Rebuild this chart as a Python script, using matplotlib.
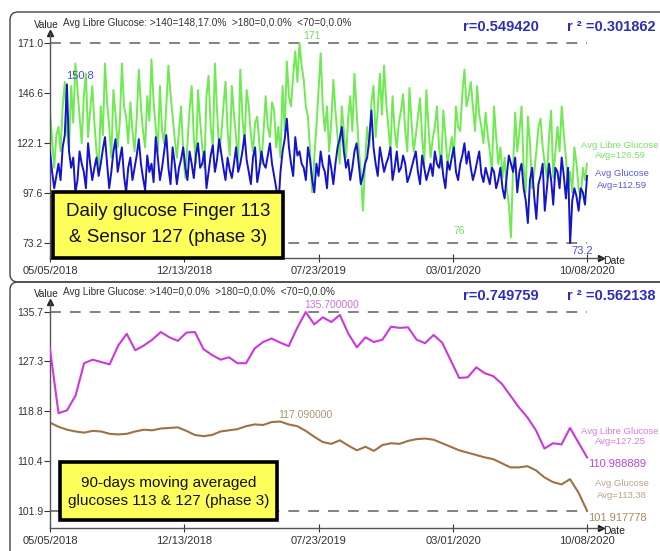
import numpy as np
import pandas as pd
import matplotlib
matplotlib.use("Agg")
import matplotlib.pyplot as plt
from matplotlib.patches import FancyBboxPatch, Rectangle

plt.rcParams['font.family'] = ['Liberation Sans', 'DejaVu Sans']

# ---- data (about two values per week / one per two weeks) ----
start = pd.Timestamp('2018-05-05')
end = pd.Timestamp('2020-10-08')
tick_dates = ['05/05/2018', '12/13/2018', '07/23/2019', '03/01/2020', '10/08/2020']

libre_daily = [137, 124, 110, 126, 130, 118, 140, 152, 128, 119, 150, 132, 161, 148, 135, 122, 145, 156, 125, 138, 150, 132, 118, 108,
               140, 126, 161, 142, 130, 115, 148, 136, 120, 132, 161, 140, 135, 122, 142, 128, 118, 134, 158, 140, 128, 120, 145, 133,
               163, 142, 130, 118, 150, 128, 122, 140, 160, 146, 135, 124, 115, 128, 140, 118,
               105, 122, 138, 150, 125, 112, 148, 133, 120, 110, 145, 155, 130, 120, 161, 138, 118, 126, 140, 152, 128, 116,
               150, 136, 125, 112, 158, 135, 122, 148, 140, 126, 118, 132, 135, 122, 112, 128, 145, 130, 125, 142, 138, 120, 130, 115,
               150, 128, 162, 145, 140, 155, 167, 152, 171, 160, 153, 140, 135, 118, 98, 115, 130, 148, 166, 140,
               128, 140, 118, 132, 153, 138, 125, 112, 140, 128, 115, 134, 145, 128, 156, 138, 120, 108, 89, 112, 130, 120,
               142, 150, 125, 138, 156, 136, 160, 142, 130, 118, 145, 128, 120, 132, 138, 146, 128, 118, 149, 132,
               118, 126, 135, 144, 125, 112, 148, 130, 115, 124, 130, 140, 120, 110, 138, 126, 112, 118,
               125, 115, 140, 130, 128, 146, 158, 140, 145, 152, 140, 128, 150, 136, 130, 122, 137, 126, 118, 108, 140, 125,
               112, 120, 105, 115, 100, 92, 76, 110, 137, 118, 128, 140, 110, 98, 135, 122, 100, 108, 118, 130,
               134, 120, 112, 105, 125, 138, 105, 118, 130, 118, 140, 126, 115, 100, 108, 98, 120, 112, 100, 95, 110, 104, 112]

finger_daily = [118, 108, 100, 106, 112, 104, 120, 126, 150.8, 118, 110, 115, 98, 104, 118, 112, 108, 100, 122, 112, 104, 110, 115, 106,
                112, 119, 125, 112, 100, 108, 118, 124, 108, 114, 120, 106, 98, 110, 115, 104, 110, 116, 124, 112, 105, 99, 116, 108,
                112, 103, 125, 115, 104, 110, 118, 126, 110, 102, 120, 112, 102, 110, 114, 120,
                110, 104, 118, 112, 105, 116, 122, 110, 112, 118, 100, 108, 116, 121, 108, 114, 124, 117, 110, 104, 115, 109,
                105, 112, 120, 108, 112, 118, 126, 114, 108, 102, 115, 120, 103, 109, 118, 112, 110, 116, 122, 112, 106, 100, 91, 108,
                118, 124, 134, 120, 112, 106, 125, 116, 118, 112, 110, 104, 120, 114, 104, 98, 112, 106, 118, 111,
                108, 100, 116, 110, 102, 112, 120, 124, 130, 118, 110, 114, 104, 110, 118, 122, 112, 102, 106, 112, 115, 124,
                138, 120, 112, 106, 120, 114, 108, 112, 115, 120, 104, 110, 118, 108, 110, 116, 112, 103, 106, 110,
                114, 118, 108, 102, 116, 110, 104, 108, 112, 106, 118, 112, 110, 116, 106, 100, 113, 109,
                115, 120, 108, 104, 112, 116, 122, 112, 118, 110, 104, 108, 113, 118, 107, 103, 110, 106, 102, 110, 108, 100,
                104, 110, 100, 95, 106, 116, 112, 108, 115, 98, 108, 112, 100, 94, 83, 104, 110, 96, 85, 102,
                106, 112, 89, 100, 112, 104, 92, 110, 108, 100, 115, 106, 95, 110, 73.2, 94, 100, 96, 89, 100, 98, 92, 106]

libre_ma = [129.4, 118.5, 119.0, 121.5, 127.0, 127.6, 127.2, 126.8, 130.0, 132.0,
            129.2, 130.0, 131.0, 132.3, 131.4, 130.8, 132.2, 132.3, 129.4, 128.4,
            127.6, 128.0, 127.0, 127.0, 129.5, 130.6, 131.2, 130.5, 129.9, 133.0,
            135.7, 133.6, 134.8, 134.0, 135.2, 132.0, 129.7, 131.4, 130.6, 131.0,
            133.2, 133.0, 133.1, 131.0, 130.4, 131.8, 130.5, 127.5, 124.5, 124.6,
            126.3, 125.3, 124.8, 123.5, 121.5, 119.5, 117.8, 115.6, 112.5, 113.4,
            113.2, 116.0, 113.5, 110.988889]

finger_ma = [116.9, 116.2, 115.7, 115.4, 115.2, 115.5, 115.4, 115.0, 114.9, 115.0,
             115.4, 115.7, 115.6, 115.9, 116.0, 116.1, 115.5, 114.8, 114.6, 114.8,
             115.4, 115.6, 115.8, 116.3, 116.6, 116.5, 117.0, 117.09, 116.6, 116.3,
             115.5, 114.5, 113.6, 113.3, 113.9, 113.0, 112.2, 112.8, 112.1, 113.1,
             113.4, 113.3, 113.8, 114.1, 114.2, 114.0, 113.4, 112.8, 112.2, 111.8,
             111.4, 111.0, 110.7, 110.0, 109.3, 109.3, 109.5, 108.8, 107.6, 106.8,
             106.4, 107.3, 105.0, 101.917778]

top_ticks = [171.0, 146.6, 122.1, 97.6, 73.2]
bottom_ticks = [135.7, 127.3, 118.8, 110.4, 101.9]

daily_dates = pd.date_range(start, end, periods=len(libre_daily))
ma_dates = pd.date_range(start, end, periods=len(libre_ma))

# ---- figure ----
W, H = 660, 551
fig = plt.figure(figsize=(W / 100, H / 100), dpi=100)


def px_axes(l, t, r, b, **kw):
    return fig.add_axes([l / W, 1 - b / H, (r - l) / W, (b - t) / H], **kw)


GREEN = '#6fea52'
BLUE = '#1414cc'
MAGENTA = '#cc38dc'
BROWN = '#9c7344'
AXC = '#333333'
xmax = start + pd.Timedelta(days=910)


def style_axis(ax, yticks):
    for s in ('top', 'right'):
        ax.spines[s].set_visible(False)
    for s in ('left', 'bottom'):
        ax.spines[s].set_color('#555555')
        ax.spines[s].set_linewidth(1.0)
    ax.set_xlim(start, xmax)
    ax.set_yticks(yticks)
    ax.set_yticklabels(['%.1f' % v for v in yticks])
    ax.set_xticks(pd.to_datetime(tick_dates, format='%m/%d/%Y'))
    ax.set_xticklabels(tick_dates)
    ax.tick_params(axis='y', direction='out', length=4, labelsize=7.5,
                   colors=AXC, pad=1)
    ax.tick_params(axis='x', direction='inout', length=6, labelsize=8,
                   colors=AXC, pad=3)
    ax.plot([0], [1], marker='^', color='#222222', ms=4, transform=ax.transAxes,
            clip_on=False)
    ax.plot([1], [0], marker='>', color='#222222', ms=4, transform=ax.transAxes,
            clip_on=False)
    ax.hlines([yticks[0], yticks[-1]], start, end, colors='#777777',
              linestyles=(0, (6, 5)), linewidth=1.3, zorder=1)


# top panel
ax1 = px_axes(50, 33, 601, 258)
ax1.set_ylim(65.9, 175.9)
style_axis(ax1, top_ticks)
ax1.plot(daily_dates, libre_daily, color=GREEN, lw=1.4, zorder=2)
ax1.plot(daily_dates, finger_daily, color=BLUE, lw=1.4, zorder=3)

i = int(np.argmax(libre_daily))
ax1.annotate('%g' % libre_daily[i], (daily_dates[i], libre_daily[i]),
             xytext=(4, 2), textcoords='offset pixels', color='#7ad866',
             fontsize=7.5, ha='left', va='bottom')
i = int(np.argmax(finger_daily))
ax1.annotate('%g' % finger_daily[i], (daily_dates[i], finger_daily[i]),
             xytext=(-1, 3), textcoords='offset pixels', color='#4d4dc8',
             fontsize=8, ha='left', va='bottom')
i = int(np.argmin(libre_daily))
ax1.annotate('%g' % libre_daily[i], (daily_dates[i], libre_daily[i]),
             xytext=(-58, 6), textcoords='offset pixels', color='#7ad866',
             fontsize=7.5, ha='left', va='center')
i = int(np.argmin(finger_daily))
ax1.annotate('%g' % finger_daily[i], (daily_dates[i], finger_daily[i]),
             xytext=(1, -8), textcoords='offset pixels', color='#4d4dc8',
             fontsize=8, ha='left', va='center')

# bottom panel
ax2 = px_axes(50, 302, 601, 528)
ax2.set_ylim(99.0, 137.4)
style_axis(ax2, bottom_ticks)
ax2.plot(ma_dates, libre_ma, color=MAGENTA, lw=1.5, zorder=3)
ax2.plot(ma_dates, finger_ma, color=BROWN, lw=1.5, zorder=2)

i = int(np.argmax(libre_ma))
ax2.annotate('%.6f' % libre_ma[i], (ma_dates[i], libre_ma[i]),
             xytext=(-2, 2), textcoords='offset pixels', color='#cc72da',
             fontsize=7.5, ha='left', va='bottom')
i = int(np.argmax(finger_ma))
ax2.annotate('%.6f' % finger_ma[i], (ma_dates[i], finger_ma[i]),
             xytext=(-2, 2), textcoords='offset pixels', color='#b29370',
             fontsize=7.5, ha='left', va='bottom')
ax2.annotate('%.6f' % libre_ma[-1], (ma_dates[-1], libre_ma[-1]),
             xytext=(1, -7), textcoords='offset pixels', color='#bb44dd',
             fontsize=8, ha='left', va='center')
ax2.annotate('%.6f' % finger_ma[-1], (ma_dates[-1], finger_ma[-1]),
             xytext=(1, -7), textcoords='offset pixels', color='#a88a60',
             fontsize=8, ha='left', va='center')

# ---- overlay in pixel coordinates: frames, headers, boxes ----
ov = fig.add_axes([0, 0, 1, 1], zorder=10)
ov.set_xlim(0, W)
ov.set_ylim(H, 0)
ov.axis('off')
ov.patch.set_alpha(0)

for top, bottom in ((12, 282), (282, 600)):
    ov.add_patch(FancyBboxPatch((10, top), 700, bottom - top,
                                boxstyle='round,pad=0,rounding_size=8',
                                fill=False, ec='#444444', lw=1.0))

headers = [
    (23, 27, 'Avg Libre Glucose: >140=148,17.0%  >180=0,0.0%  <70=0,0.0%',
     '0.549420', '0.301862', 261),
    (292, 296, 'Avg Libre Glucose: >140=0,0.0%  >180=0,0.0%  <70=0,0.0%',
     '0.749759', '0.562138', 531),
]
for hy, ry, htxt, r, r2, dy in headers:
    ov.text(46, hy + 2, 'Value', fontsize=7.2, color='#222222', ha='center',
            va='center')
    ov.text(63, hy, htxt, fontsize=7.2, color='#333333', ha='left', va='center')
    ov.text(463, ry, 'r=' + r, fontsize=10.5, color='#2e2eb8',
            fontweight='bold', ha='left', va='center')
    ov.text(567, ry, 'r ² =' + r2, fontsize=10.5, color='#2e2eb8',
            fontweight='bold', ha='left', va='center')
    ov.text(603, dy, 'Date', fontsize=7.5, color='#222222', ha='left',
            va='center')

legends = [
    (620, 145, 'Avg Libre Glucose', 'Avg=126.59', '#7ee06a'),
    (622, 174, 'Avg Glucose', 'Avg=112.59', '#5b5bd6'),
    (620, 431, 'Avg Libre Glucose', 'Avg=127.25', '#d47ee0'),
    (622, 484, 'Avg Glucose', 'Avg=113.38', '#bba488'),
]
for lx, ly, t1, t2, c in legends:
    ov.text(lx, ly, t1, fontsize=6.8, color=c, ha='center', va='center')
    ov.text(lx, ly + 11, t2, fontsize=6.8, color=c, ha='center', va='center')

boxes = [
    (53, 192, 230, 66, 'Daily glucose Finger 113', '& Sensor 127 (phase 3)',
     13.5, 212, 238),
    (60, 462, 217, 58, '90-days moving averaged', 'glucoses 113 & 127 (phase 3)',
     11, 483, 501),
]
for bx, by, bw, bh, l1, l2, fs, y1, y2 in boxes:
    ov.add_patch(Rectangle((bx, by), bw, bh, fc='#ffff5c', ec='black', lw=2.6))
    cx = bx + bw / 2
    ov.text(cx, y1, l1, fontsize=fs, color='#111111', ha='center', va='center')
    ov.text(cx, y2, l2, fontsize=fs, color='#111111', ha='center', va='center')

fig.savefig('out.png', dpi=100, facecolor='white')
